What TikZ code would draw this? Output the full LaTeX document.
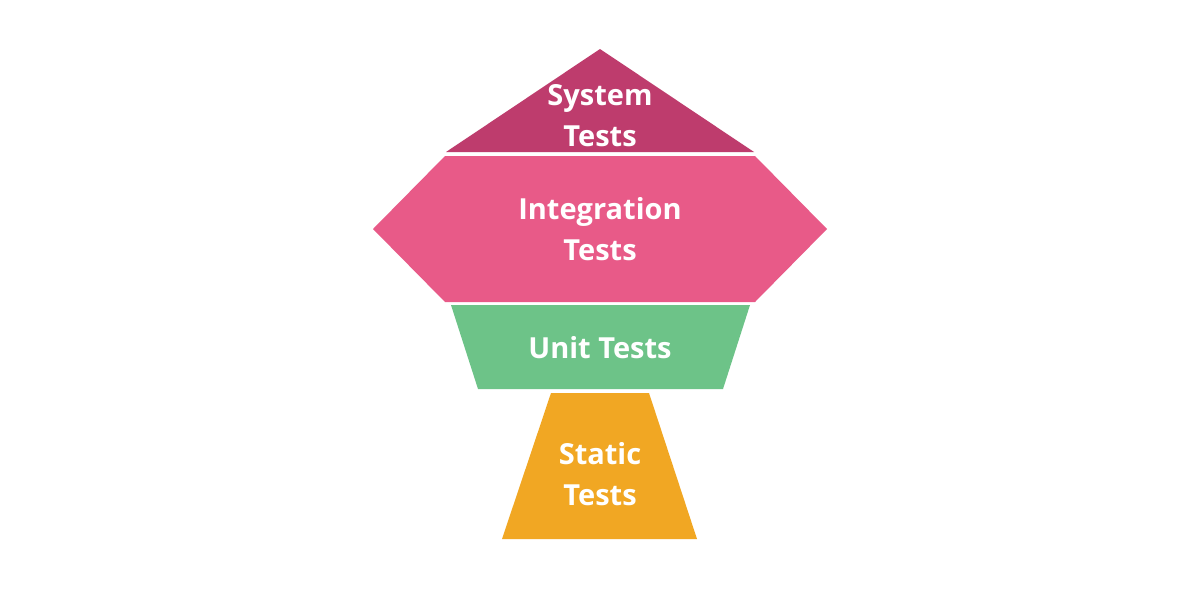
\documentclass[tikz,border=0pt]{standalone}
\usepackage{fontspec}
\setmainfont{Open Sans}
\definecolor{systemcol}{HTML}{BE3C6D}
\definecolor{integcol}{HTML}{E85A88}
\definecolor{unitcol}{HTML}{6DC388}
\definecolor{staticcol}{HTML}{F1A723}
\tikzset{
  layer/.style={draw=none},
  label/.style={text=white, font=\fontsize{29}{41}\selectfont\bfseries, align=center, inner sep=0pt}
}
\begin{document}
\begin{tikzpicture}[x=1pt,y=-1pt]
    \useasboundingbox (0,0) rectangle (1200,600);
    \fill[white] (0,0) rectangle (1200,600);
    % system tests
    \fill[systemcol,layer] (600,49) -- (754,152) -- (446,152) -- cycle;
    % integration tests
    \fill[integcol,layer] (445,156) -- (755,156) -- (827,229) -- (755,302) -- (445,302) -- (373,229) -- cycle;
    % unit tests
    \fill[unitcol,layer] (451,305) -- (750,305) -- (723,389) -- (478,389) -- cycle;
    % static tests
    \fill[staticcol,layer] (551,393) -- (649,393) -- (697,539) -- (502,539) -- cycle;
    \node[label] (system) at (600,116) {System\\Tests};
    \node[label] (integration) at (600,229) {Integration\\Tests};
    \node[label] (unit) at (600,348) {Unit Tests};
    \node[label] (static) at (600,474) {Static\\Tests};
\end{tikzpicture}
\end{document}
